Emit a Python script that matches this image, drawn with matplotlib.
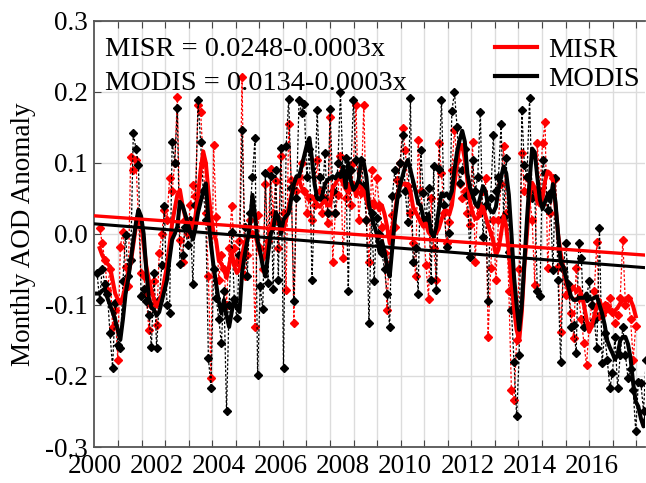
import numpy as np
import matplotlib
matplotlib.use("Agg")
import matplotlib.pyplot as plt
from matplotlib.lines import Line2D

# ---------------- data ----------------
modis_start = 1   # month index (0 = Jan 2000)
modis_monthly = [
    -0.055, -0.093, -0.049, -0.070, -0.084, -0.140, -0.189, -0.098, -0.156, -0.161,
    -0.067, -0.001, -0.059, -0.037, 0.142, 0.120, 0.097, -0.088, -0.077, -0.095,
    -0.114, -0.159, -0.055, -0.161, -0.093, -0.044, 0.039, -0.100, -0.111, 0.130,
    0.100, 0.177, -0.043, -0.030, 0.010, -0.015, 0.020, -0.070, 0.040, 0.188,
    0.129, 0.060, 0.020, -0.175, -0.217, -0.050, -0.090, -0.120, -0.154, -0.080,
    -0.250, -0.100, 0.003, -0.091, -0.119, -0.030, 0.146, 0.010, -0.060, 0.030,
    0.080, 0.135, -0.199, -0.074, -0.106, 0.085, -0.069, 0.081, -0.077, 0.090,
    -0.065, 0.121, -0.189, 0.123, 0.190, 0.064, -0.095, 0.050, 0.188, 0.170,
    0.183, 0.080, 0.120, -0.065, 0.050, 0.174, 0.080, 0.050, 0.114, 0.029,
    0.176, 0.060, 0.030, 0.100, 0.200, 0.080, 0.107, -0.081, 0.090, 0.188,
    0.104, 0.070, 0.104, 0.067, 0.020, -0.125, 0.029, -0.067, 0.022, 0.000,
    -0.027, -0.050, -0.084, -0.131, 0.053, 0.090, 0.055, 0.100, 0.139, 0.060,
    0.017, 0.191, -0.039, -0.020, -0.084, 0.118, 0.057, 0.020, 0.064, -0.065,
    0.096, -0.079, 0.092, 0.189, 0.040, -0.018, 0.001, 0.173, 0.199, 0.151,
    0.071, 0.090, 0.120, 0.055, -0.033, 0.104, 0.060, 0.080, 0.172, -0.004,
    0.040, -0.095, 0.050, 0.139, 0.060, 0.080, 0.154, 0.024, 0.107, -0.025,
    -0.107, -0.180, -0.257, -0.170, 0.175, 0.097, 0.080, 0.191, 0.050, 0.060,
    -0.081, -0.088, 0.104, 0.085, 0.034, 0.057, -0.051, 0.078, -0.065, -0.180,
    -0.050, -0.013, -0.070, -0.131, -0.128, -0.168, -0.013, -0.034, -0.131, -0.090,
    -0.067, -0.100, -0.121, -0.161, 0.008, -0.182, -0.140, -0.177, -0.217, -0.196,
    -0.145, -0.217, -0.170, -0.131, -0.170, -0.203, -0.190, -0.220, -0.278, -0.208,
    -0.210, -0.250, -0.177,
]
modis_smooth = [
    -0.084, -0.084, -0.080, -0.077, -0.090, -0.100, -0.110, -0.121, -0.135, -0.149,
    -0.120, -0.085, -0.065, -0.037, -0.010, 0.015, 0.034, 0.025, 0.000, -0.050,
    -0.090, -0.104, -0.107, -0.115, -0.110, -0.095, -0.080, -0.065, -0.035, -0.008,
    0.000, 0.010, 0.045, 0.040, 0.028, 0.015, 0.003, -0.008, 0.008, 0.030,
    0.045, 0.060, 0.071, 0.020, -0.015, -0.046, -0.070, -0.095, -0.112, -0.093,
    -0.115, -0.131, -0.110, -0.090, -0.105, -0.110, -0.055, -0.030, -0.010, 0.010,
    0.055, 0.025, -0.010, -0.025, -0.046, -0.060, -0.030, 0.000, 0.006, 0.030,
    0.024, 0.000, 0.020, 0.025, 0.029, 0.050, 0.070, 0.081, 0.081, 0.095,
    0.110, 0.125, 0.135, 0.105, 0.070, 0.050, 0.048, 0.055, 0.070, 0.076,
    0.078, 0.081, 0.078, 0.085, 0.080, 0.095, 0.065, 0.100, 0.075, 0.062,
    0.067, 0.076, 0.105, 0.100, 0.080, 0.040, 0.025, 0.012, 0.000, -0.025,
    -0.010, -0.025, -0.045, -0.060, -0.020, 0.020, 0.050, 0.068, 0.082, 0.095,
    0.104, 0.090, 0.075, 0.060, 0.043, 0.040, 0.022, 0.020, 0.028, 0.002,
    -0.004, 0.010, 0.035, 0.057, 0.053, 0.057, 0.050, 0.060, 0.090, 0.115,
    0.132, 0.145, 0.130, 0.085, 0.065, 0.055, 0.043, 0.038, 0.052, 0.067,
    0.060, 0.040, 0.032, 0.030, 0.038, 0.062, 0.080, 0.095, 0.085, 0.055,
    0.000, -0.060, -0.100, -0.135, -0.100, -0.040, 0.020, 0.075, 0.120, 0.115,
    0.080, 0.048, 0.035, 0.045, 0.055, 0.045, 0.070, 0.045, 0.000, -0.040,
    -0.046, -0.060, -0.075, -0.088, -0.093, -0.093, -0.090, -0.090, -0.090, -0.084,
    -0.090, -0.092, -0.090, -0.088, -0.100, -0.112, -0.128, -0.150, -0.160, -0.168,
    -0.177, -0.170, -0.150, -0.145, -0.145, -0.155, -0.175, -0.210, -0.236, -0.243,
    -0.260, -0.271, -0.257,
]

misr_start = 2
misr_monthly = [
    0.008, -0.013, -0.037, -0.079, -0.050, -0.131, -0.107, -0.177, -0.018, 0.003,
    -0.046, -0.074, 0.108, 0.090, 0.104, 0.020, -0.055, -0.060, -0.084, -0.135,
    -0.100, -0.067, -0.128, -0.027, 0.000, 0.034, 0.020, 0.078, 0.060, 0.100,
    0.193, -0.008, -0.039, 0.020, 0.000, 0.040, 0.069, 0.053, 0.182, 0.172,
    0.100, 0.030, -0.060, -0.203, 0.125, 0.024, -0.065, -0.030, -0.050, -0.100,
    -0.020, 0.039, -0.020, -0.040, -0.010, 0.221, -0.060, -0.030, 0.020, 0.000,
    -0.131, 0.027, -0.020, -0.050, 0.070, -0.010, 0.091, 0.030, 0.075, -0.020,
    0.110, 0.030, -0.079, 0.154, 0.076, -0.125, 0.060, 0.080, 0.100, 0.060,
    0.029, 0.050, 0.020, 0.040, 0.104, 0.060, 0.030, 0.050, 0.015, 0.165,
    -0.039, 0.030, 0.055, 0.109, -0.034, 0.050, 0.067, 0.040, 0.100, 0.182,
    0.020, 0.057, 0.182, 0.020, -0.040, 0.090, 0.040, 0.078, 0.040, 0.010,
    -0.027, -0.107, 0.000, 0.027, 0.010, 0.076, 0.100, 0.149, 0.118, 0.067,
    0.030, -0.013, -0.060, 0.132, 0.060, 0.020, -0.044, -0.091, 0.050, -0.020,
    -0.065, 0.128, 0.085, 0.030, -0.013, 0.017, 0.090, 0.146, 0.104, 0.070,
    0.050, 0.060, 0.030, 0.013, 0.130, -0.039, 0.040, 0.030, 0.060, 0.078,
    -0.145, -0.048, 0.020, -0.065, 0.020, 0.070, 0.123, 0.030, -0.080, -0.220,
    -0.234, -0.150, -0.050, 0.114, 0.060, 0.080, 0.053, 0.020, -0.072, 0.128,
    0.060, 0.128, 0.157, -0.048, 0.030, 0.078, 0.077, -0.046, -0.138, -0.050,
    -0.086, -0.070, -0.112, -0.147, -0.048, -0.090, -0.120, -0.154, -0.185, -0.130,
    -0.100, -0.080, -0.011, -0.116, -0.114, -0.100, -0.102, -0.090, -0.110, -0.126,
    -0.114, -0.090, -0.008, -0.100, -0.090, -0.120, -0.177, -0.130,
]
misr_smooth = [
    -0.020, -0.030, -0.037, -0.042, -0.046, -0.065, -0.084, -0.092, -0.098, -0.088,
    -0.074, -0.058, -0.041, -0.015, 0.010, 0.030, 0.015, -0.015, -0.045, -0.065,
    -0.080, -0.092, -0.102, -0.095, -0.085, -0.065, -0.046, -0.015, 0.015, 0.035,
    0.055, 0.062, 0.040, 0.025, 0.018, 0.012, 0.008, 0.025, 0.055, 0.090,
    0.116, 0.100, 0.060, 0.025, 0.002, -0.010, -0.037, -0.042, -0.050, -0.062,
    -0.045, -0.025, -0.045, -0.055, -0.050, -0.030, -0.012, -0.006, -0.004, 0.002,
    0.000, -0.015, -0.028, -0.037, -0.030, -0.010, 0.008, 0.020, 0.015, 0.025,
    0.015, 0.006, 0.020, 0.038, 0.055, 0.068, 0.072, 0.076, 0.065, 0.058,
    0.055, 0.053, 0.053, 0.047, 0.042, 0.038, 0.043, 0.047, 0.040, 0.040,
    0.065, 0.070, 0.078, 0.078, 0.071, 0.063, 0.058, 0.070, 0.072, 0.053,
    0.068, 0.065, 0.060, 0.048, 0.036, 0.045, 0.046, 0.040, 0.033, 0.040,
    0.028, 0.010, -0.013, 0.008, 0.030, 0.055, 0.067, 0.070, 0.071, 0.069,
    0.060, 0.038, 0.031, 0.024, 0.016, 0.010, 0.015, 0.002, -0.002, 0.001,
    0.001, 0.008, 0.020, 0.032, 0.033, 0.027, 0.040, 0.070, 0.100, 0.125,
    0.125, 0.105, 0.075, 0.045, 0.029, 0.021, 0.022, 0.030, 0.038, 0.025,
    0.012, 0.002, -0.010, -0.030, -0.022, 0.000, 0.025, 0.010, -0.025, -0.070,
    -0.105, -0.135, -0.150, -0.110, -0.045, 0.000, 0.055, 0.072, 0.065, 0.045,
    0.040, 0.050, 0.075, 0.088, 0.085, 0.076, 0.040, 0.000, -0.027, -0.046,
    -0.065, -0.080, -0.080, -0.074, -0.082, -0.076, -0.085, -0.100, -0.120, -0.138,
    -0.130, -0.115, -0.102, -0.093, -0.105, -0.112, -0.108, -0.107, -0.111, -0.108,
    -0.104, -0.098, -0.094, -0.093, -0.093, -0.093, -0.102, -0.116,
]

# linear trends (value at month 0 and slope per month, as drawn)
misr_trend = (0.0254, -0.00026)
modis_trend = (0.0141, -0.00029)
trend_months = [0, 214]

eq_texts = ["MISR = 0.0248-0.0003x", "MODIS = 0.0134-0.0003x"]
legend_labels = ["MISR", "MODIS"]
year_labels = [2000, 2002, 2004, 2006, 2008, 2010, 2012, 2014, 2016]
y_ticks = [-0.3, -0.2, -0.1, 0.0, 0.1, 0.2, 0.3]

# ---------------- plot ----------------
plt.rcParams['font.family'] = ['Liberation Serif', 'DejaVu Serif']
RED = '#ff0000'
BLK = '#000000'

fig = plt.figure(figsize=(6.46, 4.83), dpi=100)
ax = fig.add_axes([0.1462, 0.0745, 0.853, 0.8826])

def yrs(start, n):
    return 2000 + (start + np.arange(n)) / 12.0

xm = yrs(misr_start, len(misr_monthly))
xd = yrs(modis_start, len(modis_monthly))
xms = yrs(misr_start, len(misr_smooth))
xds = yrs(modis_start, len(modis_smooth))

ax.plot(xm, misr_monthly, color=RED, lw=0.9, ls=(0, (2, 1.5)),
        marker='D', ms=3.6, mec=RED, mfc=RED, zorder=3)
ax.plot(xd, modis_monthly, color=BLK, lw=0.9, ls=(0, (2, 1.5)),
        marker='D', ms=3.6, mec=BLK, mfc=BLK, zorder=3)
ax.plot(xms, misr_smooth, color=RED, lw=2.9, zorder=4, solid_joinstyle='round')
ax.plot(xds, modis_smooth, color=BLK, lw=2.9, zorder=5, solid_joinstyle='round')

tm = np.array(trend_months, dtype=float)
ax.plot(2000 + tm / 12, misr_trend[0] + misr_trend[1] * tm, color=RED, lw=2.4, zorder=6)
ax.plot(2000 + tm / 12, modis_trend[0] + modis_trend[1] * tm, color=BLK, lw=2.2, zorder=6)

ax.set_xlim(2000, 2017.73)
ax.set_ylim(-0.3, 0.3)

ax.set_xticks(year_labels)
ax.set_xticklabels([str(y) for y in year_labels])
grid_step = 0.758
ax.set_xticks([2000 + k * grid_step for k in range(24)], minor=True)
ax.set_yticks(y_ticks)
ax.set_yticklabels(['%.1f' % v for v in y_ticks])

ax.tick_params(axis='x', which='major', length=0, labelsize=19.5, pad=5)
ax.tick_params(axis='x', which='minor', direction='in', length=5, width=0.8,
               top=True, bottom=True, color='#444444')
ax.tick_params(axis='y', which='major', direction='in', length=5, width=0.8,
               labelsize=19.5, pad=5, color='#444444')

ax.grid(False)
ax.xaxis.grid(True, which='minor', color='#dcdcdc', lw=1.0, zorder=0)
ax.yaxis.grid(True, which='major', color='#dcdcdc', lw=1.0, zorder=0)
ax.set_axisbelow(True)

for s in ['left', 'bottom', 'top']:
    ax.spines[s].set_color('#555555')
    ax.spines[s].set_linewidth(1.3)
ax.spines['right'].set_visible(False)

ax.set_ylabel('Monthly AOD Anomaly', fontsize=19.5, labelpad=6)

ax.text(0.02, 0.962, eq_texts[0], transform=ax.transAxes, fontsize=20.5,
        va='top', ha='left', zorder=7)
ax.text(0.02, 0.882, eq_texts[1], transform=ax.transAxes, fontsize=20.5,
        va='top', ha='left', zorder=7)

handles = [Line2D([], [], color=RED, lw=3), Line2D([], [], color=BLK, lw=3)]
leg = ax.legend(handles, legend_labels, loc='upper right', bbox_to_anchor=(1.0, 0.975),
                frameon=False, fontsize=20.5, handlelength=1.5, handletextpad=0.38,
                labelspacing=0.12, borderpad=0.0, borderaxespad=0.2)
leg.set_zorder(8)

fig.savefig('out.png', dpi=100)
